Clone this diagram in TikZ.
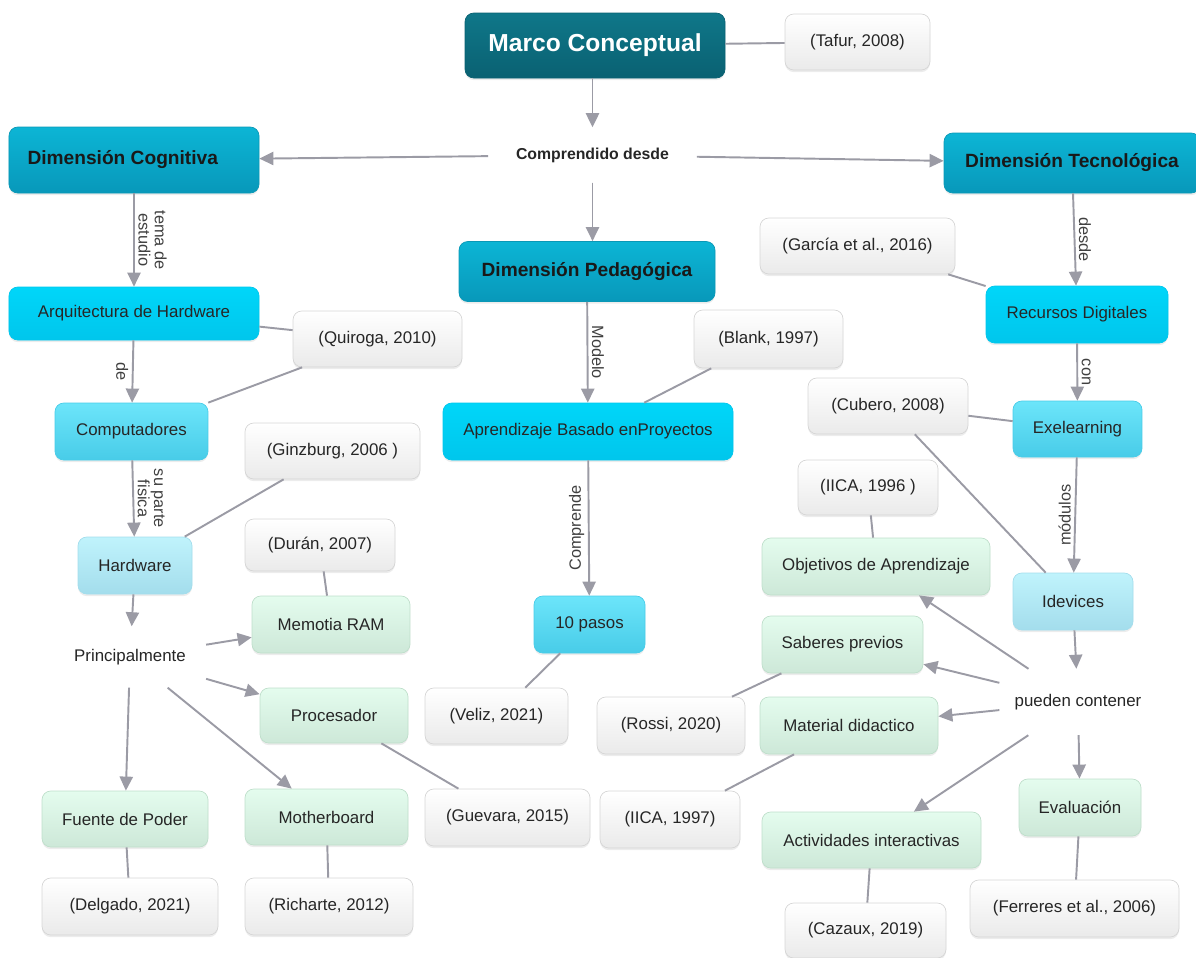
\documentclass[tikz,border=0pt]{standalone}
\usepackage{fontspec}
\setmainfont{Liberation Sans}
\usetikzlibrary{arrows.meta,shadows}

\definecolor{linea}{HTML}{9B9BA5}
\definecolor{marcoA}{HTML}{0F7789}
\definecolor{marcoB}{HTML}{0A6172}
\definecolor{dimA}{HTML}{0CB5D5}
\definecolor{dimB}{HTML}{0898BA}
\definecolor{dimBorde}{HTML}{0A98B6}
\definecolor{cianA}{HTML}{00D6F9}
\definecolor{cianB}{HTML}{00C6EC}
\definecolor{medioA}{HTML}{6CE5FA}
\definecolor{medioB}{HTML}{48CCE8}
\definecolor{claroA}{HTML}{C0F3FC}
\definecolor{claroB}{HTML}{A3DDEC}
\definecolor{verdeA}{HTML}{E4FCEE}
\definecolor{verdeB}{HTML}{CDE8D8}
\definecolor{verdeBorde}{HTML}{BFDFCB}
\definecolor{refB}{HTML}{EAEAEA}
\definecolor{refBorde}{HTML}{D6D6D6}

\begin{document}
\begin{tikzpicture}[>={Triangle[length=8pt,width=7.5pt]},
	caja/.style={rounded corners=5pt, align=center, minimum height=1.14cm,
		font=\fontsize{9.6}{11}\selectfont, text=black!85,
		drop shadow={opacity=0.15, shadow xshift=0pt, shadow yshift=-1.2pt}},
	marco/.style={caja, draw=marcoB, top color=marcoA, bottom color=marcoB,
		text=white, font=\bfseries\fontsize{14}{16}\selectfont},
	dimension/.style={caja, draw=dimBorde, top color=dimA, bottom color=dimB,
		font=\bfseries\fontsize{10.9}{12}\selectfont, text=black!90},
	cian/.style={caja, draw=cianB, top color=cianA, bottom color=cianB},
	medio/.style={caja, draw=medioB, top color=medioA, bottom color=medioB},
	claro/.style={caja, draw=claroB, top color=claroA, bottom color=claroB},
	verde/.style={caja, draw=verdeBorde, top color=verdeA, bottom color=verdeB},
	cita/.style={caja, draw=refBorde, top color=white, bottom color=refB},
	enlace/.style={font=\fontsize{9.6}{11}\selectfont, text=black!85},
	etiqueta/.style={font=\fontsize{9.3}{9.3}\selectfont, text=black!75, inner sep=2pt, align=center},
	flecha/.style={->, draw=linea, fill=linea, line width=1.1pt},
	union/.style={draw=linea, line width=1.1pt}]
	\useasboundingbox (0,0) rectangle (23.92,-19.16);
	
	% Marco
	\node[marco, minimum width=5.2cm, minimum height=1.3cm] (marco) at (11.9,-0.91) {Marco Conceptual};
	\node[cita, minimum width=2.9cm, minimum height=1.12cm] (tafur) at (17.15,-0.84) {(Tafur, 2008)};
	\node[enlace, font=\bfseries\fontsize{9}{11}\selectfont, inner xsep=0.55cm, inner ysep=0.4cm] (comprendido) at (11.85,-3.1) {Comprendido desde};
	
	% Dimensiones
	\node[dimension, minimum width=5cm, minimum height=1.32cm] (cognitiva) at (2.68,-3.2) {Dimensión Cognitiva\hspace*{0.45cm}};
	\node[dimension, minimum width=5.12cm, minimum height=1.2cm] (pedagogica) at (11.74,-5.43) {Dimensión Pedagógica};
	\node[dimension, minimum width=5.12cm, minimum height=1.2cm] (tecnologica) at (21.44,-3.26) {Dimensión Tecnológica};
	
	% Cognitiva
	\node[cian, minimum width=5cm, minimum height=1.06cm] (arquitectura) at (2.68,-6.27) {Arquitectura de Hardware};
	\node[cita, minimum width=3.38cm, minimum height=1.12cm] (quiroga) at (7.55,-6.78) {(Quiroga, 2010)};
	\node[medio, minimum width=3.06cm] (computadores) at (2.63,-8.63) {Computadores};
	\node[cita, minimum width=3.5cm, minimum height=1.12cm] (ginzburg) at (6.65,-9.02) {(Ginzburg, 2006 )};
	\node[claro, minimum width=2.28cm] (hardware) at (2.7,-11.31) {Hardware};
	\node[cita, minimum width=3cm, minimum height=1.04cm] (duran) at (6.4,-10.9) {(Durán, 2007)};
	\node[enlace, inner xsep=0.4cm, inner ysep=0.45cm] (principal) at (2.6,-13.14) {Principalmente};
	\node[verde, minimum width=3.16cm] (ram) at (6.62,-12.49) {Memotia RAM};
	\node[verde, minimum width=2.96cm, minimum height=1.1cm] (procesador) at (6.68,-14.31) {Procesador};
	\node[verde, minimum width=3.32cm, minimum height=1.12cm] (fuente) at (2.5,-16.38) {Fuente de Poder};
	\node[verde, minimum width=3.26cm, minimum height=1.12cm] (motherboard) at (6.53,-16.34) {Motherboard};
	\node[cita, minimum width=3.3cm] (guevara) at (10.15,-16.35) {(Guevara, 2015)};
	\node[cita, minimum width=3.52cm] (delgado) at (2.6,-18.13) {(Delgado, 2021)};
	\node[cita, minimum width=3.36cm] (richarte) at (6.58,-18.13) {(Richarte, 2012)};
	
	% Pedagogica
	\node[cian, minimum width=5.8cm] (abp) at (11.76,-8.63) {Aprendizaje Basado enProyectos};
	\node[cita, minimum width=2.98cm, minimum height=1.16cm] (blank) at (15.37,-6.78) {(Blank, 1997)};
	\node[medio, minimum width=2.22cm] (pasos) at (11.79,-12.49) {10 pasos};
	\node[cita, minimum width=2.86cm, minimum height=1.12cm] (veliz) at (9.93,-14.32) {(Veliz, 2021)};
	
	% Tecnologica
	\node[cita, minimum width=3.9cm, minimum height=1.12cm] (garcia) at (17.15,-4.92) {(García et al., 2016)};
	\node[cian, minimum width=3.64cm] (recursos) at (21.54,-6.29) {Recursos Digitales};
	\node[cita, minimum width=3.2cm, minimum height=1.12cm] (cubero) at (17.76,-8.12) {(Cubero, 2008)};
	\node[medio, minimum width=2.58cm, minimum height=1.12cm] (exe) at (21.55,-8.58) {Exelearning};
	\node[cita, minimum width=2.8cm, minimum height=1.1cm] (iica96) at (17.36,-9.75) {(IICA, 1996 )};
	\node[verde, minimum width=4.56cm] (objetivos) at (17.52,-11.33) {Objetivos de Aprendizaje};
	\node[claro, minimum width=2.4cm] (idevices) at (21.46,-12.03) {Idevices};
	\node[verde, minimum width=3.22cm] (saberes) at (16.85,-12.89) {Saberes previos};
	\node[enlace, inner xsep=0.3cm, inner ysep=0.5cm] (pueden) at (21.56,-14.04) {pueden contener};
	\node[cita, minimum width=2.96cm] (rossi) at (13.42,-14.51) {(Rossi, 2020)};
	\node[verde, minimum width=3.56cm] (material) at (16.98,-14.51) {Material didactico};
	\node[cita, minimum width=2.8cm] (iica97) at (13.4,-16.39) {(IICA, 1997)};
	\node[verde, minimum width=2.44cm] (evaluacion) at (21.6,-16.15) {Evaluación};
	\node[verde, minimum width=4.38cm, minimum height=1.12cm] (actividades) at (17.43,-16.8) {Actividades interactivas};
	\node[cita, minimum width=4.18cm] (ferreres) at (21.49,-18.17) {(Ferreres et al., 2006)};
	\node[cita, minimum width=3.22cm, minimum height=1.1cm] (cazaux) at (17.31,-18.61) {(Cazaux, 2019)};
	
	% Flechas
	\draw[flecha] (marco.south -| comprendido) -- (comprendido);
	\draw[flecha] (comprendido) -- (cognitiva);
	\draw[flecha] (comprendido) -- (pedagogica.north -| comprendido);
	\draw[flecha] (comprendido) -- (tecnologica);
	\draw[flecha] (cognitiva) -- node[etiqueta, midway, rotate=-90, anchor=south] {tema de\\estudio} (arquitectura);
	\draw[flecha] (arquitectura) -- node[etiqueta, midway, rotate=-90, anchor=north] {de} (computadores);
	\draw[flecha] (computadores) -- node[etiqueta, midway, rotate=-90, anchor=south] {su parte\\fisica} (hardware);
	\draw[flecha] (hardware) -- (principal);
	\draw[flecha] (principal) -- (ram);
	\draw[flecha] (principal) -- (procesador);
	\draw[flecha] (principal) -- (fuente);
	\draw[flecha] (principal) -- (motherboard);
	\draw[flecha] (pedagogica) -- node[etiqueta, midway, rotate=-90, anchor=south] {Modelo} (abp);
	\draw[flecha] (abp) -- node[etiqueta, midway, rotate=90, anchor=south] {Comprende} (pasos);
	\draw[flecha] (tecnologica) -- node[etiqueta, midway, rotate=-90, anchor=south] {desde} (recursos);
	\draw[flecha] (recursos) -- node[etiqueta, midway, rotate=-90, anchor=south] {con} (exe);
	\draw[flecha] (exe) -- node[etiqueta, midway, rotate=90, anchor=south] {módulos} (idevices);
	\draw[flecha] (idevices) -- (pueden);
	\draw[flecha] (pueden) -- (objetivos);
	\draw[flecha] (pueden) -- (saberes);
	\draw[flecha] (pueden) -- (material);
	\draw[flecha] (pueden) -- (actividades);
	\draw[flecha] (pueden) -- (evaluacion);
	
	% Referencias
	\draw[union] (marco) -- (tafur);
	\draw[union] (arquitectura) -- (quiroga);
	\draw[union] (quiroga) -- (computadores);
	\draw[union] (ginzburg) -- (hardware);
	\draw[union] (duran) -- (ram);
	\draw[union] (procesador) -- (guevara);
	\draw[union] (fuente) -- (delgado);
	\draw[union] (motherboard) -- (richarte);
	\draw[union] (blank) -- (abp);
	\draw[union] (pasos) -- (veliz);
	\draw[union] (garcia) -- (recursos);
	\draw[union] (cubero) -- (exe);
	\draw[union] (cubero) -- (idevices);
	\draw[union] (iica96) -- (objetivos);
	\draw[union] (saberes) -- (rossi);
	\draw[union] (material) -- (iica97);
	\draw[union] (actividades) -- (cazaux);
	\draw[union] (evaluacion) -- (ferreres);
\end{tikzpicture}
\end{document}
